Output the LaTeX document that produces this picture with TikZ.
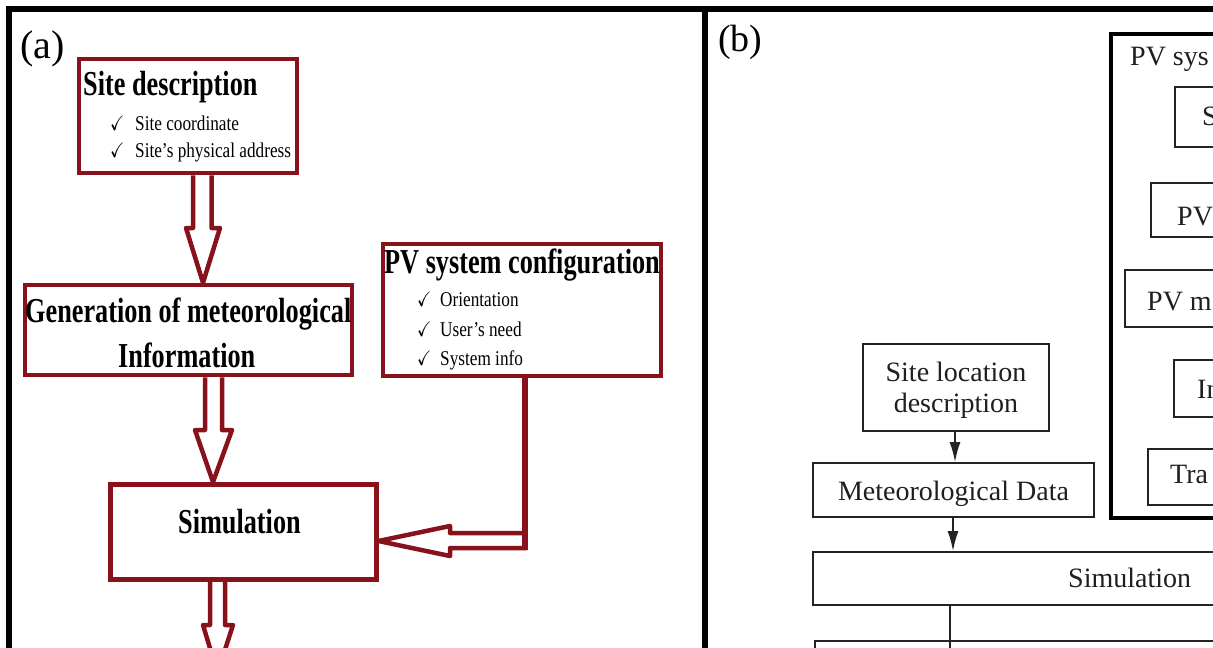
\documentclass[tikz,border=0pt]{standalone}
\usepackage{fontspec}
\setmainfont{Liberation Serif}
\usepackage{amssymb}
\usepackage{graphicx}
\usetikzlibrary{arrows.meta,calc}
\definecolor{boxred}{RGB}{135,18,28}
\definecolor{lineb}{RGB}{35,35,35}
\newcommand\cond[1]{\scalebox{0.75}[1]{#1}}
\newcommand\condi[1]{\scalebox{0.82}[1]{#1}}
\begin{document}
\begin{tikzpicture}[x=1pt,y=-1pt,
  redbox/.style={draw=boxred,line width=4.5pt,rectangle,inner sep=0pt},
  blkbox/.style={draw=lineb,line width=1.8pt,rectangle,inner sep=0pt},
  hollow/.style={draw=boxred,line width=4.5pt,line join=round},
  headtxt/.style={font=\fontsize{35}{40}\selectfont\bfseries,inner sep=0pt,anchor=base west},
  itemtxt/.style={font=\fontsize{21}{25}\selectfont,inner sep=0pt,anchor=base west},
  btxt/.style={font=\fontsize{28}{31}\selectfont,inner sep=0pt,anchor=base west,text=black!88},
  panelframe/.style={line width=6pt,black}]
\useasboundingbox (0,0) rectangle (1213,648);
\clip (0,0) rectangle (1213,648);
\fill[white] (0,0) rectangle (1213,648);

% frames
\draw[panelframe] (9,660) -- (9,9) -- (1230,9);
\draw[panelframe] (704.5,9) -- (704.5,660);

% ---------- panel (a)
\node[inner sep=0pt,anchor=base west,font=\fontsize{40}{44}\selectfont] (la) at (20,58) {(a)};

\node[redbox,minimum width=218pt,minimum height=114pt] (site) at (188,116) {};
\node[redbox,minimum width=327pt,minimum height=90pt] (gen) at (188.5,330) {};
\node[redbox,minimum width=265.5pt,minimum height=95pt,line width=5pt] (sim) at (243.25,532) {};
\node[redbox,minimum width=278pt,minimum height=132pt] (pv) at (522,310) {};
\coordinate (simout) at (217.5,673);

\node[headtxt] (t1) at (83,95) {\cond{Site description}};
\node[itemtxt] (c1) at (110,130) {\condi{$\checkmark$}};
\node[itemtxt] (i1) at (135,130) {\condi{Site coordinate}};
\node[itemtxt] (c2) at (110,157) {\condi{$\checkmark$}};
\node[itemtxt] (i2) at (135,157) {\condi{Site’s physical address}};

\node[headtxt] (t2) at (25,322) {\cond{Generation of meteorological}};
\node[headtxt] (t3) at (118,367) {\cond{Information}};
\node[headtxt] (t4) at (178,533) {\cond{Simulation}};

\node[headtxt] (t5) at (384,273) {\cond{PV system configuration}};
\node[itemtxt] (c3) at (417,306) {\condi{$\checkmark$}};
\node[itemtxt] (i3) at (440,306) {\condi{Orientation}};
\node[itemtxt] (c4) at (417,336) {\condi{$\checkmark$}};
\node[itemtxt] (i4) at (440,336) {\condi{User’s need}};
\node[itemtxt] (c5) at (417,365) {\condi{$\checkmark$}};
\node[itemtxt] (i5) at (440,365) {\condi{System info}};

% hollow arrows
\draw[hollow] let \p1=(site.south), \p2=(gen.north) in
  (193,\y1) -- (193,228) -- (186,228) -- (203,\y2) -- (220,228) -- (211.5,228) -- (211.5,\y1);
\draw[hollow] let \p1=(gen.south), \p2=(sim.north) in
  (205,\y1) -- (205,430) -- (195,430) -- (213,\y2) -- (232,430) -- (222,430) -- (222,\y1);
\draw[hollow] let \p1=(sim.south), \p2=(simout) in
  (210,\y1) -- (210,625) -- (203,625) -- (217.5,\y2) -- (233,625) -- (225,625) -- (225,\y1);
\draw[hollow] let \p1=(sim.east) in
  (527,533) -- (450,533) -- (450,526) -- (\x1,541) -- (450,556) -- (450,548) -- (527,548);
\draw[boxred,line width=6pt] let \p1=(pv.south) in (524.5,\y1) -- (524.5,550);

% ---------- panel (b)
\node[inner sep=0pt,anchor=base west,font=\fontsize{38}{42}\selectfont] (lb) at (718,51) {(b)};

\node[draw=black,line width=4pt,rectangle,inner sep=0pt,minimum width=129pt,minimum height=484pt] (pvsys) at (1175.5,276) {};
\node[btxt] (ps) at (1130,65) {PV sys};
\node[blkbox,minimum width=65pt,minimum height=60pt] (in1) at (1207.5,117) {};
\node[blkbox,minimum width=89pt,minimum height=54pt] (in2) at (1195.5,210) {};
\node[blkbox,minimum width=115pt,minimum height=57pt] (in3) at (1182.5,298.5) {};
\node[blkbox,minimum width=66pt,minimum height=57pt] (in4) at (1207,388.5) {};
\node[blkbox,minimum width=92pt,minimum height=56pt] (in5) at (1194,477) {};
\node[btxt] (s1) at (1202,125) {S};
\node[btxt] (s2) at (1177,225) {PV};
\node[btxt] (s3) at (1147,310) {PV m};
\node[btxt] (s4) at (1197,398) {In};
\node[btxt] (s5) at (1170,483) {Tra};

\node[blkbox,minimum width=186pt,minimum height=87pt] (slt) at (956,387.5) {};
\node[btxt,anchor=base] (slt1) at (956,381) {Site location};
\node[btxt,anchor=base] (slt2) at (956,412) {description};
\node[blkbox,minimum width=281pt,minimum height=54pt] (met) at (953.5,490) {};
\node[btxt,anchor=base] (mett) at (953.5,500) {Meteorological Data};
\node[blkbox,minimum width=427pt,minimum height=53pt] (simb) at (1026.5,578.5) {};
\node[btxt] (simbt) at (1068,587) {Simulation};
\node[blkbox,minimum width=425pt,minimum height=59pt] (nextb) at (1027.5,670.5) {};
\coordinate (bout) at (950,660);

\draw[lineb,line width=1.8pt,-{Latex[length=20pt,width=11pt]}] let \p1=(slt.south), \p2=(met.north) in (955,\y1) -- (955,\y2);
\draw[lineb,line width=1.8pt,-{Latex[length=20pt,width=11pt]}] let \p1=(met.south), \p2=(simb.north) in (953,\y1) -- (953,\y2);
\draw[lineb,line width=1.8pt] let \p1=(simb.south) in (950,\y1) -- (bout);
\end{tikzpicture}
\end{document}
